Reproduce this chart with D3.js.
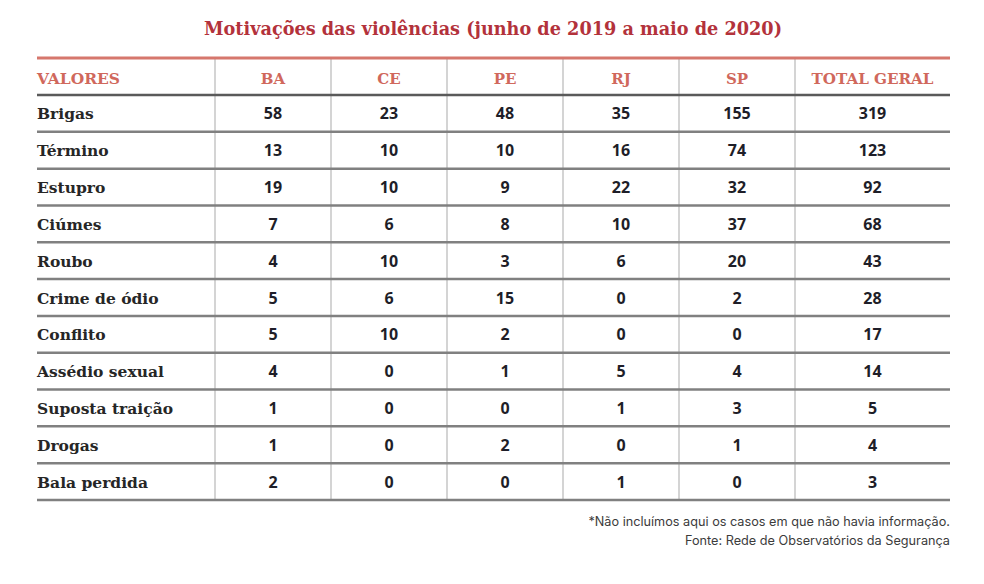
<!DOCTYPE html>
<html>
<head>
<meta charset="utf-8">
<script src="https://cdnjs.cloudflare.com/ajax/libs/d3/7.8.5/d3.min.js"></script>
<style>
  body { margin: 0; background: #fff; }
  .slab { font-family: "DejaVu Serif", serif; font-weight: bold; }
  .num { font-family: "Open Sans", "Liberation Sans", sans-serif; font-weight: 700; }
  .note { font-family: "Inter", "Open Sans", sans-serif; }
</style>
</head>
<body>
<div id="chart"></div>
<script>
"use strict"

const title = "Motivações das violências (junho de 2019 a maio de 2020)"
const states = [ "BA", "CE", "PE", "RJ", "SP" ]
const motives = [ "Brigas", "Término", "Estupro", "Ciúmes", "Roubo", "Crime de ódio", "Conflito",
  "Assédio sexual", "Suposta traição", "Drogas", "Bala perdida" ]
const BA = [ 58, 13, 19, 7, 4, 5, 5, 4, 1, 1, 2 ]
const CE = [ 23, 10, 10, 6, 10, 6, 10, 0, 0, 0, 0 ]
const PE = [ 48, 10, 9, 8, 3, 15, 2, 1, 0, 2, 0 ]
const RJ = [ 35, 16, 22, 10, 6, 0, 0, 5, 1, 0, 1 ]
const SP = [ 155, 74, 32, 37, 20, 2, 0, 4, 3, 1, 0 ]
const totals = [ 319, 123, 92, 68, 43, 28, 17, 14, 5, 4, 3 ]
const notes = [ "*Não incluímos aqui os casos em que não havia informação.",
  "Fonte: Rede de Observatórios da Segurança" ]

const width = 984, height = 584
const tLeft = 37, tRight = 950, tTop = 58, tBottom = 500
const colStart = 215, colEnd = 795
const headerH = 37

const svg = d3.select("#chart").append("svg")
  .attr("width", width)
  .attr("height", height)

const x = d3.scaleBand().domain(states).range([colStart, colEnd])
const y = d3.scaleBand().domain(motives).range([tTop + headerH, tBottom])

const values = { BA, CE, PE, RJ, SP }

svg.append("text")
  .attr("class", "slab")
  .attr("x", 493)
  .attr("y", 35)
  .attr("text-anchor", "middle")
  .attr("font-size", "19px")
  .attr("fill", "#b3323b")
  .attr("textLength", 578)
  .attr("lengthAdjust", "spacingAndGlyphs")
  .text(title)

// vertical separators
const vlines = [ colStart ].concat(states.map((s) => x(s) + x.bandwidth()))
svg.append("g")
  .selectAll("line")
  .data(vlines)
  .enter()
    .append("line")
    .attr("x1", (d) => d).attr("x2", (d) => d)
    .attr("y1", tTop).attr("y2", tBottom)
    .attr("stroke", "#d4d4d4")
    .attr("stroke-width", 2)

// horizontal lines
svg.append("g")
  .selectAll("line")
  .data(motives)
  .enter()
    .append("line")
    .attr("x1", tLeft).attr("x2", tRight)
    .attr("y1", (d) => y(d) + y.bandwidth())
    .attr("y2", (d) => y(d) + y.bandwidth())
    .attr("stroke", "#808080")
    .attr("stroke-width", 2.5)

svg.append("line")
  .attr("x1", tLeft).attr("x2", tRight)
  .attr("y1", tTop + headerH).attr("y2", tTop + headerH)
  .attr("stroke", "#5a5a5a")
  .attr("stroke-width", 2.5)

svg.append("line")
  .attr("x1", tLeft).attr("x2", tRight)
  .attr("y1", tTop).attr("y2", tTop)
  .attr("stroke", "#d6776d")
  .attr("stroke-width", 3)

// header
const header = svg.append("g")
  .attr("class", "slab")
  .attr("font-size", "15px")
  .attr("fill", "#d0685c")

header.append("text")
  .attr("x", tLeft)
  .attr("y", tTop + 26)
  .attr("textLength", 83)
  .attr("lengthAdjust", "spacingAndGlyphs")
  .text("VALORES")

header.selectAll("text.state")
  .data(states)
  .enter()
    .append("text")
    .attr("class", "state")
    .attr("x", (d) => x(d) + x.bandwidth() / 2)
    .attr("y", tTop + 26)
    .attr("text-anchor", "middle")
    .text((d) => d)

header.append("text")
  .attr("x", (colEnd + tRight) / 2)
  .attr("y", tTop + 26)
  .attr("text-anchor", "middle")
  .attr("textLength", 122)
  .attr("lengthAdjust", "spacingAndGlyphs")
  .text("TOTAL GERAL")

// rows
const rows = svg.append("g")
  .selectAll("g.row")
  .data(motives)
  .enter()
    .append("g")
    .attr("class", "row")
    .attr("transform", (d) => `translate(0, ${y(d) + y.bandwidth() / 2 + 6})`)

rows.append("text")
  .attr("class", "slab")
  .attr("x", tLeft)
  .attr("font-size", "15.5px")
  .attr("fill", "#262626")
  .text((d) => d)

rows.each((d, i, all) => {
  let row = d3.select(all[i])
  for(let s of states) {
    row.append("text")
      .attr("class", "num")
      .attr("x", x(s) + x.bandwidth() / 2)
      .attr("text-anchor", "middle")
      .attr("font-size", "16px")
      .attr("fill", "#1e1e28")
      .text(values[s][i])
  }
  row.append("text")
    .attr("class", "num")
    .attr("x", (colEnd + tRight) / 2)
    .attr("text-anchor", "middle")
    .attr("font-size", "16px")
    .attr("fill", "#1e1e28")
    .text(totals[i])
})

svg.append("g")
  .selectAll("text")
  .data(notes)
  .enter()
    .append("text")
    .attr("class", "note")
    .attr("x", tRight)
    .attr("y", (d, i) => 526 + i * 19)
    .attr("text-anchor", "end")
    .attr("font-size", "12.7px")
    .attr("fill", "#3c3c3c")
    .text((d) => d)
</script>
</body>
</html>
